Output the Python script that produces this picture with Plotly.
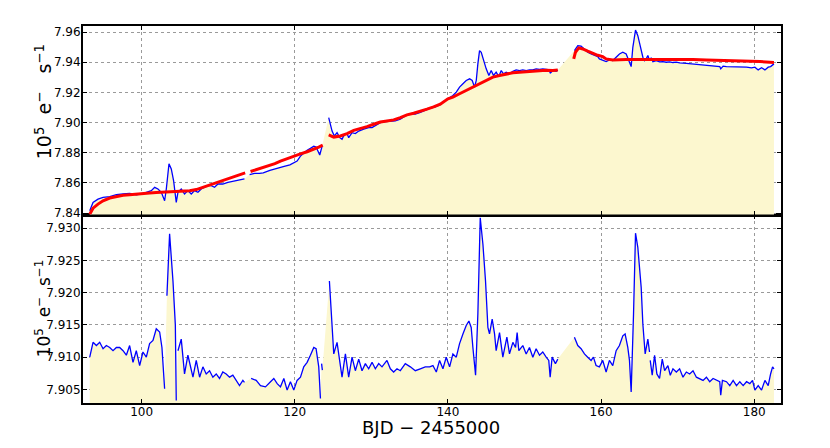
import plotly.graph_objects as go

# upper panel: measured flux (blue) and model (red), None = gap in the line
top_time = [93.22, 93.65, 94.3, 94.96, 95.83, 96.7, 97.57, 98.43, 99.3, 99.96,
            100.61, 101.26, 101.7, 102.13, 102.57, 103.0, 103.22, 103.57, 103.87, 104.17,
            104.52, 104.74, 105.17, 105.6, 106.04, 106.48, 106.91, 107.35, 107.78, 108.22,
            108.65, 109.09, 109.52, 109.96, 110.6, 111.26, 111.91, 112.57, 113.0, 113.43,
            None,
            114.1, 114.74, 115.39, 115.88, 116.75, 117.62, 118.49, 119.36, 120.3, 120.74,
            121.17, 121.61, 122.04, 122.48, 122.78, 123.0, 123.26, 123.57,
            None,
            124.43, 124.87, 125.17, 125.52, 125.87, 126.17, 126.48, 126.83, 127.04, 127.48,
            127.91, 128.35, 129.0, 129.65, 130.09, 130.52, 131.17, 131.83, 132.48, 133.13,
            133.78, 134.43, 135.09, 135.74, 136.39, 137.04, 137.7, 138.35, 139.0, 139.6,
            140.2, 140.65, 141.09, 141.52, 141.96, 142.39, 142.83, 143.17, 143.48, 143.7,
            143.91, 144.13, 144.35, 144.65, 145.0, 145.35, 145.65, 145.96, 146.3, 146.65,
            146.96, 147.26, 147.61, 148.04, 148.48, 148.91, 149.35, 149.78, 150.22, 150.65,
            151.09, 151.52, 151.96, 152.39, 152.83, 153.26, 153.35, 153.7, 154.13, 154.35,
            None,
            156.52, 156.96, 157.39, 157.83, 158.26, 158.7, 159.13, 159.57, 159.78, 160.22,
            160.66, 161.09, 161.53, 161.97, 162.4, 162.84, 163.28, 163.62, 163.93, 164.15,
            164.5, 164.8, 165.11, 165.46, 165.68, 165.9, 166.11, 166.33, 166.55, 166.77,
            167.21, 167.64, 168.08, 168.52, 168.95, 169.39, 169.83, 170.26, 171.14, 172.01,
            172.88, 173.76, 174.63, 175.5, 175.63, 175.94, 176.38, 177.25, 178.12, 179.0,
            179.65, 180.09, 180.52, 180.96, 181.4, 181.83, 182.14, 182.58]
top_flux = [7.8416, 7.8471, 7.8493, 7.8504, 7.8509, 7.8522, 7.8527, 7.8531, 7.8522, 7.8527,
            7.8538, 7.8549, 7.8571, 7.8560, 7.8538, 7.8482, 7.8560, 7.8727, 7.8693, 7.8616,
            7.8471, 7.8538, 7.8560, 7.8527, 7.8549, 7.8527, 7.8549, 7.8538, 7.8560, 7.8571,
            7.8582, 7.8582, 7.8571, 7.8593, 7.8593, 7.8604, 7.8611, 7.8616, 7.8620, 7.8627,
            None,
            7.8656, 7.8664, 7.8664, 7.8667, 7.8683, 7.8698, 7.8709, 7.8720, 7.8745, 7.8778,
            7.8800, 7.8816, 7.8829, 7.8844, 7.8838, 7.8816, 7.8785, 7.8844,
            None,
            7.9033, 7.8944, 7.8911, 7.8933, 7.8900, 7.8889, 7.8922, 7.8927, 7.8900, 7.8933,
            7.8927, 7.8944, 7.8956, 7.8967, 7.8967, 7.8982, 7.9000, 7.9007, 7.9011, 7.9011,
            7.9022, 7.9044, 7.9056, 7.9056, 7.9067, 7.9082, 7.9096, 7.9104, 7.9118, 7.9145,
            7.9165, 7.9180, 7.9202, 7.9235, 7.9257, 7.9279, 7.9290, 7.9279, 7.9235, 7.9279,
            7.9389, 7.9477, 7.9466, 7.9411, 7.9356, 7.9312, 7.9345, 7.9312, 7.9334, 7.9305,
            7.9345, 7.9323, 7.9334, 7.9323, 7.9340, 7.9349, 7.9345, 7.9349, 7.9345, 7.9349,
            7.9349, 7.9356, 7.9352, 7.9356, 7.9354, 7.9349, 7.9327, 7.9345, 7.9340, 7.9349,
            None,
            7.9477, 7.9510, 7.9506, 7.9488, 7.9466, 7.9455, 7.9444, 7.9437, 7.9422, 7.9411,
            7.9404, 7.9415, 7.9411, 7.9433, 7.9455, 7.9466, 7.9455, 7.9411, 7.9371, 7.9499,
            7.9613, 7.9576, 7.9510, 7.9433, 7.9411, 7.9422, 7.9444, 7.9411, 7.9429, 7.9404,
            7.9411, 7.9402, 7.9404, 7.9400, 7.9402, 7.9398, 7.9400, 7.9396, 7.9393, 7.9389,
            7.9385, 7.9382, 7.9378, 7.9371, 7.9356, 7.9374, 7.9371, 7.9371, 7.9367, 7.9367,
            7.9363, 7.9367, 7.9349, 7.9363, 7.9349, 7.9367, 7.9371, 7.9389]

model_time = [93.22, 93.65, 94.3, 94.96, 95.83, 96.7, 97.57, 98.43, 99.3, 100.17,
              101.04, 101.91, 102.78, 103.65, 104.52, 105.39, 106.26, 107.13, 108.0, 108.87,
              109.74, 110.61, 111.48, 112.35, 113.22, 113.52,
              None,
              114.22, 114.96, 115.83, 116.3, 117.4, 118.13, 119.0, 119.87, 120.74, 121.61,
              122.48, 123.13, 123.65,
              None,
              124.43, 125.09, 125.96, 126.83, 127.7, 128.57, 129.43, 130.3, 131.17, 132.04,
              132.91, 133.78, 134.65, 135.52, 136.39, 137.26, 138.13, 139.0, 140.0, 140.65,
              141.52, 142.39, 143.26, 144.13, 145.0, 145.87, 146.74, 147.61, 148.48, 149.35,
              150.22, 151.09, 151.96, 152.83, 153.7, 154.35,
              None,
              156.43, 156.65, 157.09, 157.61, 158.26, 158.91, 159.57, 160.22, 160.66, 161.53,
              162.4, 163.28, 164.15, 165.46, 166.77, 168.52, 170.26, 172.01, 173.76, 175.5,
              177.25, 179.0, 180.74, 182.05, 182.58]
model_flux = [7.8393, 7.8433, 7.8460, 7.8482, 7.8500, 7.8511, 7.8518, 7.8522, 7.8527, 7.8531,
              7.8533, 7.8536, 7.8538, 7.8538, 7.8540, 7.8544, 7.8549, 7.8556, 7.8571, 7.8589,
              7.8602, 7.8616, 7.8631, 7.8644, 7.8660, 7.8667,
              None,
              7.8676, 7.8687, 7.8700, 7.8712, 7.8728, 7.8745, 7.8762, 7.8778, 7.8793, 7.8807,
              7.8822, 7.8838, 7.8851,
              None,
              7.8918, 7.8904, 7.8911, 7.8927, 7.8949, 7.8960, 7.8973, 7.8989, 7.9004, 7.9011,
              7.9018, 7.9033, 7.9051, 7.9062, 7.9073, 7.9089, 7.9104, 7.9122, 7.9158, 7.9169,
              7.9191, 7.9213, 7.9235, 7.9257, 7.9279, 7.9301, 7.9312, 7.9323, 7.9330, 7.9334,
              7.9338, 7.9343, 7.9345, 7.9347, 7.9345, 7.9349,
              None,
              7.9422, 7.9466, 7.9495, 7.9488, 7.9473, 7.9459, 7.9446, 7.9437, 7.9422, 7.9415,
              7.9418, 7.9418, 7.9418, 7.9418, 7.9418, 7.9420, 7.9420, 7.9418, 7.9415, 7.9413,
              7.9411, 7.9409, 7.9404, 7.9400, 7.9398]

# lower panel
bot_time = [93.22, 93.65, 94.09, 94.52, 94.96, 95.39, 95.83, 96.26, 96.7, 97.13,
            97.57, 98.0, 98.43, 98.87, 99.3, 99.74, 100.17, 100.61, 101.04, 101.48,
            101.91, 102.35, 102.65, 103.0,
            None,
            103.3, 103.65, 104.09, 104.4, 104.52,
            None,
            104.74, 105.17, 105.6, 106.04, 106.7, 107.13, 107.57, 108.0, 108.43, 108.87,
            109.3, 109.74, 110.17, 110.6, 111.04, 111.48, 111.91, 112.35, 112.78, 113.22,
            113.43,
            None,
            114.3, 114.96, 115.52, 116.17, 116.83, 117.26, 117.7, 118.13, 118.57, 119.0,
            119.43, 119.87, 120.3, 120.74, 121.17, 121.61, 122.04, 122.48, 122.78, 123.13,
            123.35,
            None,
            123.5, 123.6,
            None,
            124.52, 125.09, 125.52, 125.83, 126.17, 126.61, 127.04, 127.48, 127.91, 128.35,
            128.78, 129.22, 129.65, 130.09, 130.52, 130.96, 131.39, 132.04, 132.48, 132.91,
            133.35, 133.78, 134.43, 135.09, 135.74, 136.39, 137.04, 137.61, 138.04, 138.48,
            138.91, 139.35, 139.78, 140.22, 140.65, 141.09, 141.52, 141.96, 142.39, 142.74,
            143.04, 143.26, 143.61, 143.91, 144.22, 144.57, 144.91, 145.22, 145.43, 145.78,
            146.09, 146.3, 146.74, 147.17, 147.7, 148.04, 148.48, 148.83, 149.04, 149.26,
            149.78, 150.22, 150.65, 151.09, 151.52, 151.96, 152.39, 152.83, 153.17, 153.35,
            153.61, 154.04, 154.35,
            None,
            156.52, 156.96, 157.39, 157.83, 158.26, 158.7, 159.0, 159.35, 159.78, 160.22,
            160.66, 161.09, 161.53, 161.97, 162.4, 162.84, 163.14, 163.49, 163.71, 163.93,
            164.24, 164.5, 164.8, 165.24, 165.46, 165.76, 166.11, 166.33,
            None,
            166.42, 166.68, 166.99, 167.29, 167.64, 167.99, 168.3, 168.73, 169.04, 169.39,
            169.83, 170.26, 170.7, 171.14, 171.57, 172.01, 172.45, 172.88, 173.32, 173.76,
            174.19, 174.63, 175.07, 175.5, 175.63, 175.85, 176.38, 176.81, 177.25, 177.69,
            178.12, 178.56, 179.0, 179.43, 179.78, 180.09, 180.52, 180.96, 181.4, 181.83,
            182.14, 182.4, 182.58]
bot_flux = [7.9100, 7.9123, 7.9118, 7.9123, 7.9113, 7.9118, 7.9115, 7.9110, 7.9115, 7.9115,
            7.9110, 7.9103, 7.9118, 7.9092, 7.9110, 7.9087, 7.9108, 7.9100, 7.9121, 7.9126,
            7.9144, 7.9139, 7.9115, 7.9051,
            None,
            7.9195, 7.9291, 7.9218, 7.9150, 7.9033,
            None,
            7.9110, 7.9128, 7.9074, 7.9103, 7.9069, 7.9095, 7.9069, 7.9085, 7.9074, 7.9079,
            7.9069, 7.9074, 7.9067, 7.9077, 7.9074, 7.9069, 7.9072, 7.9064, 7.9056, 7.9064,
            7.9061,
            None,
            7.9067, 7.9064, 7.9056, 7.9054, 7.9062, 7.9067, 7.9059, 7.9054, 7.9067, 7.9049,
            7.9062, 7.9049, 7.9064, 7.9069, 7.9085, 7.9092, 7.9103, 7.9115, 7.9113, 7.9085,
            7.9036,
            None,
            7.9090, 7.9080,
            None,
            7.9218, 7.9105, 7.9123, 7.9100, 7.9069, 7.9105, 7.9069, 7.9100, 7.9079, 7.9097,
            7.9079, 7.9090, 7.9082, 7.9092, 7.9082, 7.9090, 7.9085, 7.9095, 7.9082, 7.9077,
            7.9082, 7.9079, 7.9090, 7.9085, 7.9079, 7.9082, 7.9085, 7.9085, 7.9087, 7.9077,
            7.9095, 7.9082, 7.9100, 7.9085, 7.9105, 7.9100, 7.9121, 7.9136, 7.9149, 7.9156,
            7.9146, 7.9115, 7.9072, 7.9167, 7.9316, 7.9275, 7.9218, 7.9146, 7.9136, 7.9159,
            7.9136, 7.9110, 7.9138, 7.9100, 7.9131, 7.9105, 7.9123, 7.9115, 7.9138, 7.9110,
            7.9118, 7.9105, 7.9115, 7.9100, 7.9113, 7.9103, 7.9108, 7.9100, 7.9095, 7.9069,
            7.9100, 7.9090, 7.9097,
            None,
            7.9131, 7.9118, 7.9113, 7.9105, 7.9100, 7.9095, 7.9100, 7.9087, 7.9085, 7.9095,
            7.9077, 7.9095, 7.9087, 7.9110, 7.9118, 7.9133, 7.9136, 7.9115, 7.9095, 7.9046,
            7.9167, 7.9292, 7.9270, 7.9208, 7.9151, 7.9105, 7.9128, 7.9108,
            None,
            7.9095, 7.9072, 7.9103, 7.9074, 7.9067, 7.9097, 7.9079, 7.9087, 7.9072, 7.9082,
            7.9077, 7.9082, 7.9069, 7.9077, 7.9074, 7.9079, 7.9069, 7.9067, 7.9064, 7.9069,
            7.9062, 7.9067, 7.9064, 7.9062, 7.9041, 7.9064, 7.9062, 7.9056, 7.9064, 7.9056,
            7.9062, 7.9056, 7.9062, 7.9059, 7.9064, 7.9049, 7.9056, 7.9049, 7.9064, 7.9056,
            7.9074, 7.9085, 7.9082]

x_ticks = [100, 120, 140, 160, 180]
top_ticks = [7.84, 7.86, 7.88, 7.90, 7.92, 7.94, 7.96]
bot_ticks = [7.905, 7.910, 7.915, 7.920, 7.925, 7.930]

FILL = '#fcf7cf'
NB = '\u00a0'


def no_gaps(xs, ys):
    pairs = [(a, b) for a, b in zip(xs, ys) if a is not None]
    return [p[0] for p in pairs], [p[1] for p in pairs]


fig = go.Figure()

# fills bridge the gaps, lines do not
fx, fy = no_gaps(top_time, top_flux)
fig.add_trace(go.Scatter(x=fx, y=fy, mode='lines', line=dict(width=0), fill='tozeroy',
                         fillcolor=FILL, xaxis='x2', yaxis='y2', hoverinfo='skip'))
fig.add_trace(go.Scatter(x=top_time, y=top_flux, mode='lines', line=dict(color='#0000ff', width=1.3),
                         xaxis='x2', yaxis='y2'))
fig.add_trace(go.Scatter(x=model_time, y=model_flux, mode='lines', line=dict(color='#ff0000', width=3),
                         xaxis='x2', yaxis='y2'))

fx, fy = no_gaps(bot_time, bot_flux)
fig.add_trace(go.Scatter(x=fx, y=fy, mode='lines', line=dict(width=0), fill='tozeroy',
                         fillcolor=FILL, xaxis='x', yaxis='y', hoverinfo='skip'))
fig.add_trace(go.Scatter(x=bot_time, y=bot_flux, mode='lines', line=dict(color='#0000ff', width=1.3),
                         xaxis='x', yaxis='y'))

axis_style = dict(showline=True, linewidth=2, linecolor='black', mirror='ticks',
                  ticks='inside', ticklen=4, tickcolor='black',
                  showgrid=True, gridcolor='#9a9a9a', griddash='dot', gridwidth=1,
                  zeroline=False, tickfont=dict(size=12, color='black'))

# the page body adds 8px on the left and top, margins account for it
fig.update_layout(
    width=830, height=448,
    paper_bgcolor='white', plot_bgcolor='white',
    font=dict(family='DejaVu Sans', color='black'),
    showlegend=False,
    margin=dict(l=75, r=57, t=18, b=53),
    xaxis=dict(domain=[0, 1], anchor='y', range=[92.34, 183.5], tickvals=x_ticks,
               ticklabelstandoff=-3, **axis_style),
    xaxis2=dict(domain=[0, 1], anchor='y2', range=[92.34, 183.5], tickvals=x_ticks,
                showticklabels=False, matches='x', **axis_style),
    yaxis=dict(domain=[0, 0.5], anchor='x', range=[7.9029, 7.9321], tickvals=bot_ticks,
               tickformat='.3f', ticklabelstandoff=-2, **axis_style),
    yaxis2=dict(domain=[0.5, 1], anchor='x2', range=[7.8391, 7.964], tickvals=top_ticks,
                tickformat='.2f', ticklabelstandoff=-2, **axis_style),
)

fig.add_annotation(text='10<sup>5</sup>' + NB * 2 + 'e<sup>\u2212</sup>' + NB * 3 + 's<sup>\u22121</sup>',
                   xref='paper', yref='paper', x=-0.056, y=0.80, textangle=-90,
                   showarrow=False, font=dict(size=19), xanchor='center', yanchor='middle')
fig.add_annotation(text='10<sup>5</sup>' + NB * 2 + 'e<sup>\u2212</sup>' + NB * 2 + 's<sup>\u22121</sup>',
                   xref='paper', yref='paper', x=-0.058, y=0.25, textangle=-90,
                   showarrow=False, font=dict(size=17), xanchor='center', yanchor='middle')
fig.add_annotation(text='BJD \u2212 2455000', xref='paper', yref='paper', x=0.499, y=-0.064,
                   showarrow=False, font=dict(size=18), xanchor='center', yanchor='middle')

fig.write_html("out.html")
